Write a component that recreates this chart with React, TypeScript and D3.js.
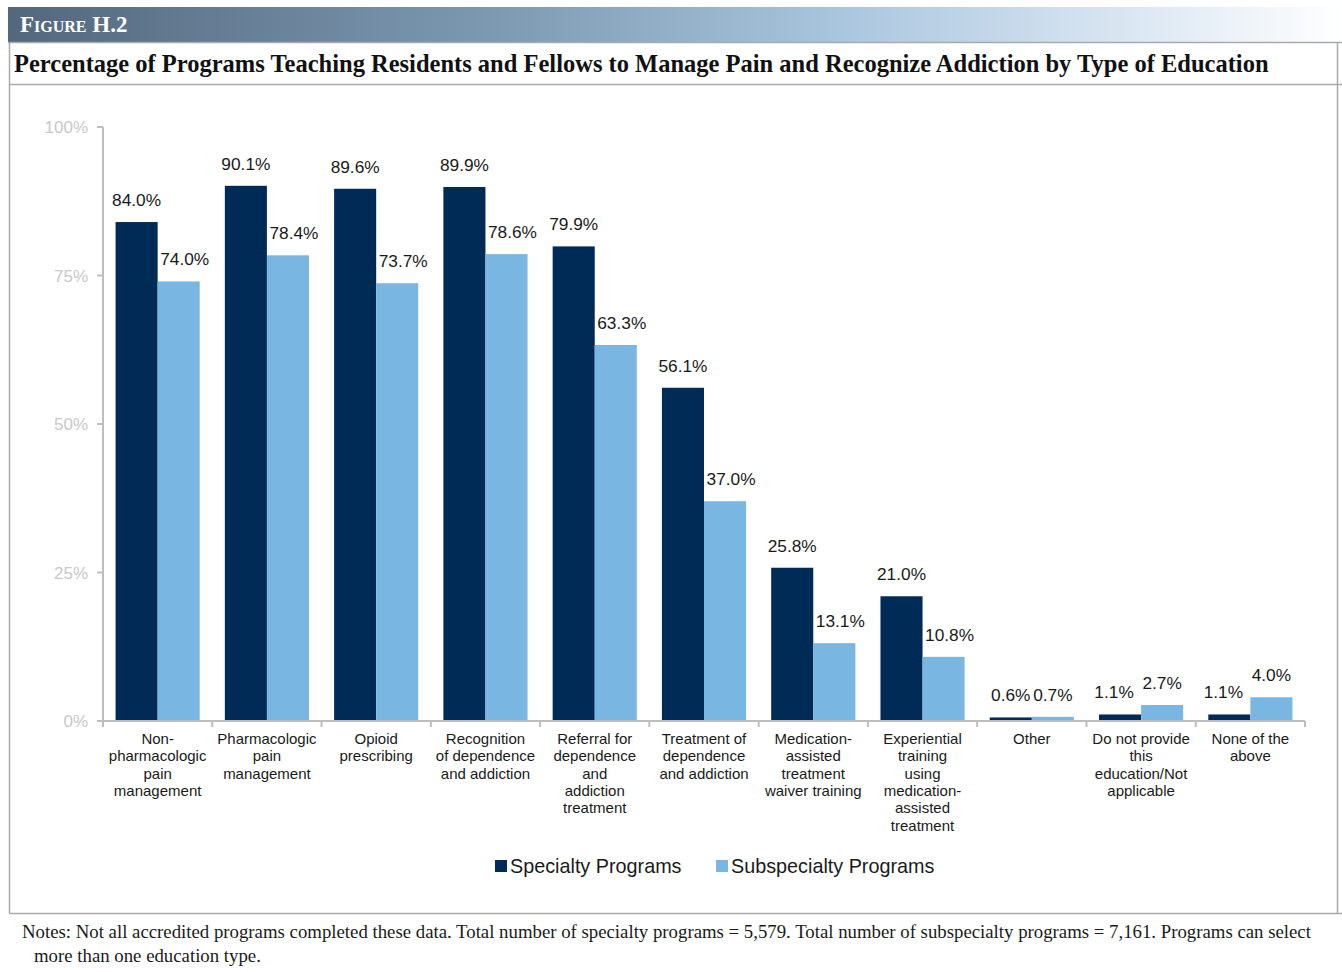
import React from "react";
import * as d3 from "d3";

const categories: string[][] = [
  ["Non-", "pharmacologic", "pain", "management"],
  ["Pharmacologic", "pain", "management"],
  ["Opioid", "prescribing"],
  ["Recognition", "of dependence", "and addiction"],
  ["Referral for", "dependence", "and", "addiction", "treatment"],
  ["Treatment of", "dependence", "and addiction"],
  ["Medication-", "assisted", "treatment", "waiver training"],
  ["Experiential", "training", "using", "medication-", "assisted", "treatment"],
  ["Other"],
  ["Do not provide", "this", "education/Not", "applicable"],
  ["None of the", "above"],
];
const specialty = [84.0, 90.1, 89.6, 89.9, 79.9, 56.1, 25.8, 21.0, 0.6, 1.1, 1.1];
const subspecialty = [74.0, 78.4, 73.7, 78.6, 63.3, 37.0, 13.1, 10.8, 0.7, 2.7, 4.0];
const seriesNames = ["Specialty Programs", "Subspecialty Programs"];
const yTicks = [0, 25, 50, 75, 100];

const DARK = "#012b57";
const LIGHT = "#7ab6e2";
const AXIS = "#bdbdbd";
const SANS = "'Liberation Sans', Arial, sans-serif";
const SERIF = "'Liberation Serif', 'Times New Roman', serif";

export default function App() {
  const W = 1342, H = 972;
  const x0 = 103, x1 = 1305, yTop = 127, yBot = 721;
  const idx = categories.map((_, i) => i);
  const x = d3.scaleBand<number>().domain(idx).range([x0, x1]).paddingInner(0.23).paddingOuter(0.115);
  const step = x.step();
  const bw = x.bandwidth() / 2;
  const y = d3.scaleLinear().domain([0, 100]).range([yBot, yTop]);
  const series = [specialty, subspecialty];
  const colors = [DARK, LIGHT];

  // label nudges mimicking the original's overlap avoidance
  const nudge = (s: number, i: number, v: number) => {
    if (s === 1) return v > 5 ? 6 : 0;
    const other = subspecialty[i];
    return v < 2 && other > v + 1 ? -6 : 0;
  };

  return (
    <svg width={W} height={H} style={{ position: "absolute", left: 0, top: 0 }}>
      <defs>
        <linearGradient id="hdr" x1="0" x2="1" y1="0" y2="0">
          <stop offset="0" stopColor="#53677d" />
          <stop offset="0.35" stopColor="#7b97b0" />
          <stop offset="0.62" stopColor="#a9c5de" />
          <stop offset="0.85" stopColor="#dce8f3" />
          <stop offset="1" stopColor="#ffffff" />
        </linearGradient>
      </defs>
      <rect x={0} y={0} width={W} height={H} fill="#fff" />
      <rect x={8} y={7} width={1334} height={35} fill="url(#hdr)" />
      <text x={20} y={32} fill="#fff" fontFamily={SERIF} fontWeight="bold" fontSize={23} style={{ fontVariant: "small-caps" }}>
        Figure H.2
      </text>
      {/* frame */}
      <line x1={8} x2={1342} y1={42.5} y2={42.5} stroke="#aaa" strokeWidth={1.5} />
      <line x1={10} x2={1342} y1={84.5} y2={84.5} stroke="#aaa" strokeWidth={1.5} />
      <line x1={9.5} x2={9.5} y1={42} y2={913} stroke="#aaa" strokeWidth={1.5} />
      <line x1={1337.5} x2={1337.5} y1={42} y2={913} stroke="#aaa" strokeWidth={1.5} />
      <line x1={9} x2={1342} y1={913.5} y2={913.5} stroke="#aaa" strokeWidth={1.5} />
      <text x={14} y={72} fontFamily={SERIF} fontWeight="bold" fontSize={24.5} fill="#111">
        Percentage of Programs Teaching Residents and Fellows to Manage Pain and Recognize Addiction by Type of Education
      </text>

      {/* y axis */}
      <line x1={x0} x2={x0} y1={yTop} y2={yBot} stroke={AXIS} strokeWidth={2} />
      {yTicks.map((t) => (
        <g key={t}>
          <line x1={x0 - 6} x2={x0} y1={y(t)} y2={y(t)} stroke={AXIS} strokeWidth={2} />
          <text x={88} y={y(t) + 6} textAnchor="end" fontFamily={SANS} fontSize={17} fill="#c8c8c8">
            {t}%
          </text>
        </g>
      ))}

      {/* bars */}
      {series.map((vals, s) =>
        vals.map((v, i) => {
          const bx = (x(i) as number) + s * bw;
          return (
            <g key={`${s}-${i}`}>
              <rect x={bx} y={y(v)} width={bw} height={yBot - y(v)} fill={colors[s]} />
              <text x={bx + bw / 2 + nudge(s, i, v)} y={y(v) - 16} textAnchor="middle" fontFamily={SANS} fontSize={17.3} fill="#1a1a1a">
                {v.toFixed(1)}%
              </text>
            </g>
          );
        })
      )}

      {/* x axis */}
      <line x1={x0} x2={x1} y1={yBot} y2={yBot} stroke={AXIS} strokeWidth={2} />
      {d3.range(categories.length + 1).map((k) => (
        <line key={k} x1={x0 + k * step} x2={x0 + k * step} y1={yBot} y2={yBot + 6} stroke={AXIS} strokeWidth={2} />
      ))}
      {categories.map((lines, i) => (
        <text key={i} textAnchor="middle" fontFamily={SANS} fontSize={15} fill="#1a1a1a">
          {lines.map((l, j) => (
            <tspan key={j} x={(x(i) as number) + x.bandwidth() / 2} y={744 + j * 17.3}>
              {l}
            </tspan>
          ))}
        </text>
      ))}

      {/* legend */}
      {seriesNames.map((n, s) => {
        const lx = s === 0 ? 495 : 716;
        return (
          <g key={n}>
            <rect x={lx} y={860} width={12} height={12} fill={colors[s]} />
            <text x={lx + 15} y={873} fontFamily={SANS} fontSize={19.8} fill="#1a1a1a">
              {n}
            </text>
          </g>
        );
      })}

      {/* notes */}
      <text fontFamily={SERIF} fontSize={18.8} fill="#1a1a1a">
        <tspan x={22} y={938}>
          Notes: Not all accredited programs completed these data. Total number of specialty programs = 5,579. Total number of subspecialty programs = 7,161. Programs can select
        </tspan>
        <tspan x={34} y={962}>more than one education type.</tspan>
      </text>
    </svg>
  );
}
